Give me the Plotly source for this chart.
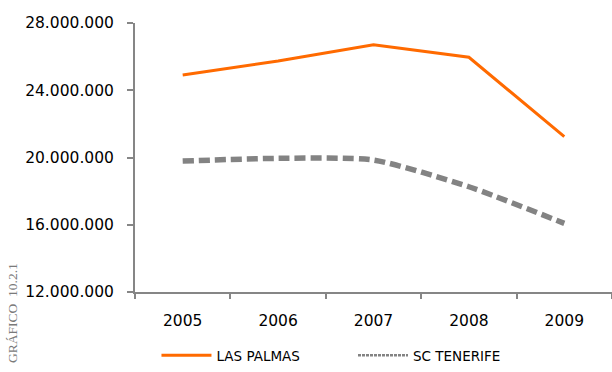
import plotly.graph_objects as go

# data
years = ["2005", "2006", "2007", "2008", "2009"]
las_palmas = [24910000, 25740000, 26710000, 25960000, 21240000]
sc_tenerife = [19790000, 19950000, 19850000, 18260000, 16080000]
y_ticks = [12000000, 16000000, 20000000, 24000000, 28000000]

AXIS_GREY = "#868686"
ORANGE = "#FF6A00"
GREY = "#838383"

fig = go.Figure()
fig.add_trace(go.Scatter(x=years, y=las_palmas, mode="lines", name="LAS PALMAS",
                         line=dict(color=ORANGE, width=3), legend="legend"))
fig.add_trace(go.Scatter(x=years, y=sc_tenerife, mode="lines", name="SC TENERIFE",
                         line=dict(color=GREY, width=5.5, dash="11px,5px", shape="spline", smoothing=0.6),
                         showlegend=False))
# legend-only entry with thin dashes, as in the original legend key
fig.add_trace(go.Scatter(x=[None], y=[None], mode="lines", name="SC TENERIFE",
                         line=dict(color=GREY, width=2.5, dash="3px,1px"), legend="legend2"))

legend_style = dict(orientation="h", yanchor="bottom", y=-0.294, xanchor="left",
                    font=dict(size=13.5, color="#000000"), itemwidth=50, bgcolor="rgba(0,0,0,0)")

fig.update_layout(
    width=612, height=372,
    margin=dict(l=135, r=0, t=23, b=80),
    plot_bgcolor="white", paper_bgcolor="white",
    separators=",.",
    font=dict(family="DejaVu Sans", size=15.5, color="#000000"),
    showlegend=True,
    legend=dict(x=0.045, **legend_style),
    legend2=dict(x=0.457, **legend_style),
)
fig.update_xaxes(type="category", tickson="boundaries", showline=True, linecolor=AXIS_GREY,
                 linewidth=2, ticks="outside", ticklen=5, tickcolor=AXIS_GREY, tickwidth=2,
                 showgrid=False, zeroline=False, ticklabelstandoff=13, range=[-0.5, 4.5],
                 automargin=False)
fig.update_yaxes(range=[12000000, 28000000], tickvals=y_ticks,
                 tickformat=",d", showline=True, linecolor=AXIS_GREY, linewidth=2,
                 ticks="outside", ticklen=6, tickcolor=AXIS_GREY, tickwidth=2,
                 showgrid=False, zeroline=False, ticklabelstandoff=10, automargin=False)

fig.add_annotation(text="GRÁFICO  10.2.1", xref="paper", yref="paper", x=-0.258, y=0.115,
                   xanchor="center", yanchor="top", textangle=-90, showarrow=False,
                   font=dict(family="Liberation Serif", size=13.5, color="#7a7a7a"))

# drop the default 8px page margin so the figure fills the window
fig.write_html("out.html", config={"displayModeBar": False},
               post_script="document.body.style.margin='0px';")
